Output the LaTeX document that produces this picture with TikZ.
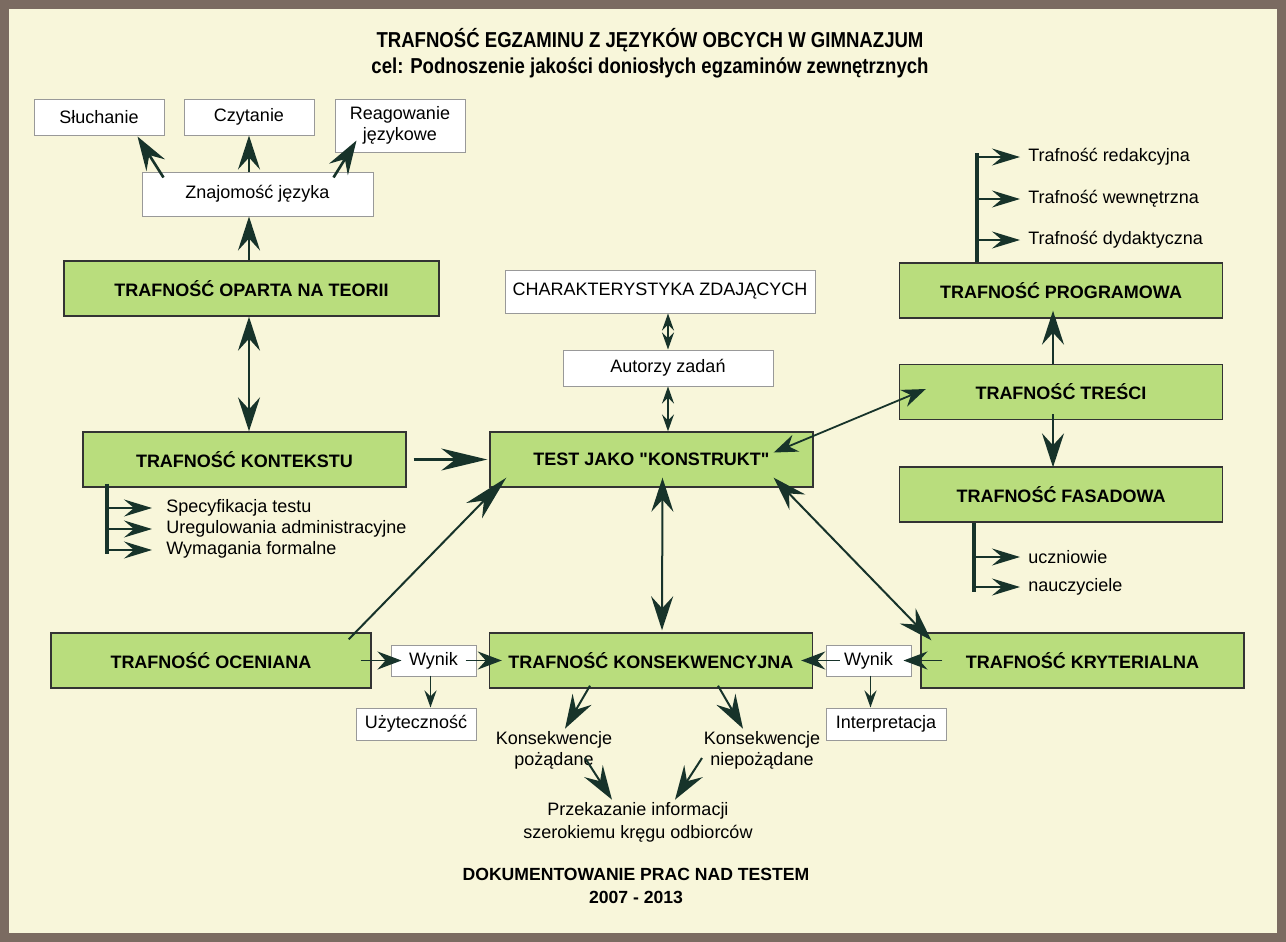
\documentclass[tikz,border=0pt]{standalone}
\usepackage{fontspec}
\setmainfont[Ligatures=TeXOff]{Liberation Sans}
\newfontfamily\titlefont[FakeStretch=0.86]{Liberation Sans}
\usetikzlibrary{arrows.meta,calc}

\definecolor{frame}{HTML}{7B6B61}
\definecolor{paper}{HTML}{F8F6DA}
\definecolor{leaf}{HTML}{B9DD7D}
\definecolor{ink}{HTML}{17332A}

\tikzset{
    greenbox/.style={draw=black!80,line width=0.7pt,fill=leaf,inner sep=0pt,
        minimum width=161.5pt,minimum height=27.5pt,font=\fontsize{9}{11}\selectfont\bfseries},
    whitebox/.style={draw=black!40,line width=0.5pt,fill=white,inner sep=0pt,align=center,
        font=\fontsize{9}{10.5}\selectfont},
    plaintext/.style={inner sep=0pt,align=center,font=\fontsize{9}{10.5}\selectfont},
    big/.style={draw=ink,line width=1.3pt,>={Stealth[length=17pt,width=11pt,inset=6pt]}},
    long/.style={draw=ink,line width=1.1pt,>={Stealth[length=23pt,width=11pt,inset=7pt]}},
    mid/.style={draw=ink,line width=0.9pt,>={Stealth[length=12pt,width=9pt,inset=4pt]}},
    thin/.style={draw=ink,line width=0.8pt,>={Stealth[length=8.5pt,width=6pt,inset=3pt]}},
    listlink/.style={draw=ink,line width=0.9pt,>={Stealth[length=14pt,width=8.5pt,inset=5pt]}},
    bar/.style={draw=ink,line width=2pt}
}

\begin{document}
\begin{tikzpicture}[x=0.5pt,y=-0.5pt]
    % tlo i ramka
    \fill[frame](0,0)rectangle(1286,942);
    \fill[paper](9,9)rectangle(1277,933);
    \useasboundingbox(0,0)rectangle(1286,942);

    \node[align=center,font=\titlefont\fontsize{10.8}{13}\selectfont\bfseries](title)at(650,53)
        {TRAFNOŚĆ EGZAMINU Z JĘZYKÓW OBCYCH W GIMNAZJUM\\cel: Podnoszenie jakości doniosłych egzaminów zewnętrznych};

    % gora po lewej
    \node[whitebox,minimum width=65pt,minimum height=18pt](sluch)at(99,117){Słuchanie};
    \node[whitebox,minimum width=65pt,minimum height=18pt](czyt)at(249,117){Czytanie};
    \node[whitebox,minimum width=65pt,minimum height=26.5pt](reag)at(400,125.5){Reagowanie\\językowe};
    \node[whitebox,minimum width=115.5pt,minimum height=22pt](znaj)at(257.5,194){Znajomość języka};
    \node[greenbox,minimum width=187.5pt](teoria)at(251.5,288.5){TRAFNOŚĆ OPARTA NA TEORII};
    \node[greenbox](kontekst)at(244.5,459.5){TRAFNOŚĆ KONTEKSTU};

    % srodek
    \node[whitebox,minimum width=155pt,minimum height=21.5pt](charakt)at(660,291.5){CHARAKTERYSTYKA ZDAJĄCYCH};
    \node[whitebox,minimum width=105pt,minimum height=18pt](autor)at(668,368){Autorzy zadań};
    \node[greenbox](test)at(651.5,459.5){TEST JAKO "KONSTRUKT"};

    % prawa strona
    \node[greenbox](prog)at(1061,290.5){TRAFNOŚĆ PROGRAMOWA};
    \node[greenbox](tresci)at(1061,392){TRAFNOŚĆ TREŚCI};
    \node[greenbox](fasad)at(1061,494.5){TRAFNOŚĆ FASADOWA};

    % dol
    \node[greenbox,minimum width=160pt](ocen)at(211,660.5){TRAFNOŚĆ OCENIANA};
    \node[greenbox](konsek)at(651,660.5){TRAFNOŚĆ KONSEKWENCYJNA};
    \node[greenbox](kryt)at(1082.5,660.5){TRAFNOŚĆ KRYTERIALNA};
    \node[whitebox,minimum width=42.5pt,minimum height=15.5pt](wynikL)at(433.5,660.5){Wynik};
    \node[whitebox,minimum width=42.5pt,minimum height=15.5pt](wynikP)at(868.5,660.5){Wynik};
    \node[whitebox,minimum width=60pt,minimum height=16pt](uzyt)at(416,724){Użyteczność};
    \node[whitebox,minimum width=60pt,minimum height=16pt](interp)at(886,724){Interpretacja};
    \node[plaintext](pozad)at(554,750){Konsekwencje\\pożądane};
    \node[plaintext](niepoz)at(762,750){Konsekwencje\\niepożądane};
    \node[plaintext,font=\fontsize{9}{11.5}\selectfont](przekaz)at(638,822){Przekazanie informacji\\szerokiemu kręgu odbiorców};
    \node[align=center,font=\fontsize{8.8}{11.5}\selectfont\bfseries](stopka)at(636,886)
        {DOKUMENTOWANIE PRAC NAD TESTEM\\2007 - 2013};

    % listy
    \node[plaintext,anchor=west](redak)at(1028,157){Trafność redakcyjna};
    \node[plaintext,anchor=west](wewn)at(1028,199){Trafność wewnętrzna};
    \node[plaintext,anchor=west](dydak)at(1028,240){Trafność dydaktyczna};
    \node[plaintext,anchor=west](uczn)at(1028,557){uczniowie};
    \node[plaintext,anchor=west](naucz)at(1028,587){nauczyciele};
    \node[plaintext,anchor=west](spec)at(166,508){Specyfikacja testu};
    \node[plaintext,anchor=west](uregul)at(166,529){Uregulowania administracyjne};
    \node[plaintext,anchor=west](wymag)at(166,550){Wymagania formalne};

    \coordinate(progbar)at(977,153);
    \coordinate(fasadbar)at(974,592);
    \coordinate(kontbar)at(107,554);
    \draw[bar](prog.north-|progbar)--(progbar);
    \draw[bar](fasad.south-|fasadbar)--(fasadbar);
    \draw[bar]($(kontekst.south-|kontbar)+(0,-4)$)--(kontbar);
    \foreach \item in {redak,wewn,dydak}
        \draw[listlink,->]($(\item.west-|progbar)+(1,0)$)--([xshift=-4pt]\item.west);
    \foreach \item in {uczn,naucz}
        \draw[listlink,->]($(\item.west-|fasadbar)+(1,0)$)--([xshift=-4pt]\item.west);
    \foreach \item in {spec,uregul,wymag}
        \draw[listlink,->]($(\item.west-|kontbar)+(1,0)$)--([xshift=-7pt]\item.west);

    % strzalki
    \draw[big,->]($(znaj.north west)+(22,6)$)--($(sluch.south east)+(-27,1)$);
    \draw[big,->](czyt.south|-znaj.north)--(czyt.south);
    \draw[big,->]($(znaj.north east)+(-40,6)$)--($(reag.south west)+(22,-12)$);
    \draw[big,->](czyt.south|-teoria.north)--(czyt.south|-znaj.south);
    \draw[big,<->](czyt.south|-teoria.south)--(czyt.south|-kontekst.north);
    \draw[long,->]($(kontekst.east)+(7,0)$)--($(test.west)+(-2,0)$);
    \draw[long,->,line width=1pt]($(ocen.north east)+(-23,7)$)--($(test.south west)+(17,-10)$);
    \draw[thin,<->](autor.north)--(autor.north|-charakt.south);
    \draw[thin,<->](autor.south)--(autor.south|-test.north);
    \draw[mid,<->]($(test.east)+(-40,-7)$)--($(tresci.west)+(27,-3)$);
    \draw[big,<->,line width=1pt]($(test.south east)+(-40,-10)$)--($(kryt.north west)+(11,8)$);
    \draw[big,<->,line width=1pt]($(test.south)+(11,-10)$)--($(konsek.north)+(11,-2)$);
    \draw[big,->,line width=1.2pt]($(tresci.north)+(-8,0)$)--($(prog.south)+(-8,-8)$);
    \draw[big,->,line width=1.2pt]($(tresci.south)+(-8,-6)$)--($(fasad.north)+(-8,1)$);
    \draw[mid,->]($(ocen.east)+(-11,0)$)--($(wynikL.west)+(11,0)$);
    \draw[mid,->]($(wynikL.east)+(-11,0)$)--($(konsek.west)+(13,0)$);
    \draw[thin,->]($(wynikL.south)+(-3,-1)$)--($(wynikL.south|-uzyt.north)+(-3,0)$);
    \draw[mid,->]($(kryt.west)+(22,0)$)--($(wynikP.east)+(-8,0)$);
    \draw[mid,->]($(wynikP.west)+(14,0)$)--($(konsek.east)+(-12,0)$);
    \draw[thin,->]($(wynikP.south)+(2,-1)$)--($(wynikP.south|-interp.north)+(2,0)$);
    \draw[big,->,line width=1pt]($(konsek.south)+(-61,-3)$)--($(pozad.north)+(11,-2)$);
    \draw[big,->,line width=1pt]($(konsek.south)+(67,-3)$)--($(niepoz.north)+(-19,-2)$);
    \draw[big,->,line width=1pt]($(pozad)+(31,8)$)--($(przekaz.north)+(-26,-2)$);
    \draw[big,->,line width=1pt]($(niepoz)+(-60,8)$)--($(przekaz.north)+(37,-2)$);
\end{tikzpicture}
\end{document}
